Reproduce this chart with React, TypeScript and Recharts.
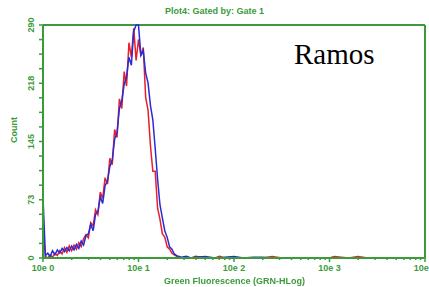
import React from 'react';
import { LineChart, Line, XAxis, YAxis, ReferenceLine } from 'recharts';

// channel position in decades (0 = 10e0, 4 = 10e4)
const channels = [
  0, 0.025, 0.05, 0.075, 0.1, 0.125, 0.15, 0.175, 0.2, 0.225, 0.25, 0.275, 0.3, 0.325, 0.35, 0.375,
  0.4, 0.425, 0.45, 0.475, 0.5, 0.525, 0.55, 0.575, 0.6, 0.625, 0.65, 0.675, 0.7, 0.725, 0.75, 0.775,
  0.8, 0.825, 0.85, 0.875, 0.9, 0.925, 0.95, 0.975, 1.0, 1.025, 1.05, 1.075, 1.1, 1.125, 1.15, 1.175,
  1.2, 1.225, 1.25, 1.275, 1.3, 1.325, 1.35, 1.375, 1.4, 1.425, 1.45, 1.5, 1.55, 1.6, 1.7, 1.8,
  1.85, 1.9, 2.0, 2.1, 2.2, 2.3, 2.4, 2.5, 2.6, 2.8, 3.0, 3.05, 3.2, 3.3, 3.4, 3.6, 3.8, 4.0,
];

const redCounts = [
  35, 2, 0, 4, 1, 6, 3, 9, 5, 13, 7, 15, 9, 16, 11, 19,
  14, 24, 29, 25, 44, 40, 60, 54, 82, 74, 100, 92, 124, 116, 160, 150,
  198, 186, 232, 214, 268, 250, 286, 246, 272, 252, 262, 200, 184, 140, 108, 108,
  62, 48, 30, 26, 14, 11, 6, 4, 2, 1, 0, 1, 0, 2, 0, 0,
  2, 0, 0, 0, 0, 0, 2, 0, 0, 0, 0, 2, 0, 2, 0, 0, 0, 0,
];

const blueCounts = [
  76, 3, 6, 2, 9, 4, 10, 6, 12, 8, 13, 9, 15, 10, 17, 12,
  21, 16, 28, 30, 42, 34, 54, 58, 76, 68, 90, 96, 114, 122, 148, 156,
  186, 196, 216, 226, 250, 240, 282, 290, 290, 252, 258, 230, 218, 190, 172, 136,
  98, 66, 50, 34, 26, 14, 11, 5, 3, 2, 1, 2, 0, 1, 2, 0,
  0, 1, 2, 0, 1, 1, 0, 0, 0, 0, 0, 0, 0, 0, 0, 0, 0, 0,
];

const yTicks = Array.from({ length: 17 }, (_, i) => (i * 290) / 16);
const yLabels = ['0', '73', '145', '218', '290'];
const xTicks = [0, 1, 2, 3].flatMap((k) => [1, 2, 3, 4, 5, 6, 7, 8, 9].map((m) => k + Math.log10(m))).concat([4]);
const xLabels = ['10e 0', '10e 1', '10e 2', '10e 3', '10e 4'];

const green = '#3b9b3b';
const font = '"Liberation Sans", Arial, sans-serif';

const data = channels.map((c, i) => ({ c, red: redCounts[i], blue: blueCounts[i] }));

const YTick = (props: any) => {
  const { y, payload } = props;
  const idx = Math.round((payload.value * 16) / 290);
  const major = idx % 4 === 0;
  return (
    <g>
      <line x1={39} x2={43} y1={y} y2={y} stroke={green} strokeWidth={1.5} />
      {major && (
        <text
          x={31}
          y={y}
          transform={`rotate(-90, 31, ${y})`}
          textAnchor="middle"
          dominantBaseline="central"
          fill={green}
          fontSize={9}
          fontWeight="bold"
          fontFamily={font}
        >
          {yLabels[idx / 4]}
        </text>
      )}
    </g>
  );
};

const XTick = (props: any) => {
  const { x, payload } = props;
  const v = payload.value;
  const major = Math.abs(v - Math.round(v)) < 1e-6;
  return (
    <g>
      <line x1={x} x2={x} y1={258} y2={major ? 262 : 260} stroke={green} strokeWidth={1.5} />
      {major && (
        <text x={x} y={271} textAnchor="middle" fill={green} fontSize={9} fontWeight="bold" fontFamily={font}>
          {xLabels[Math.round(v)]}
        </text>
      )}
    </g>
  );
};

export default function App() {
  return (
    <div style={{ position: 'fixed', left: 0, top: 0, width: 429, height: 287, background: '#fff' }}>
      <LineChart width={429} height={287} data={data} margin={{ top: 25, right: 4, bottom: 0, left: 0 }}>
        <XAxis
          dataKey="c"
          type="number"
          domain={[0, 4]}
          ticks={xTicks}
          interval={0}
          height={29}
          stroke={green}
          strokeWidth={2}
          tickLine={false}
          tick={<XTick />}
        />
        <YAxis
          type="number"
          domain={[0, 290]}
          ticks={yTicks}
          interval={0}
          width={43}
          stroke={green}
          strokeWidth={2}
          tickLine={false}
          tick={<YTick />}
        />
        <ReferenceLine y={290} stroke={green} strokeWidth={2} />
        <ReferenceLine x={4} stroke={green} strokeWidth={2} />
        <Line dataKey="red" stroke="#e8202a" strokeWidth={1.5} dot={false} isAnimationActive={false} />
        <Line dataKey="blue" stroke="#2b2bd6" strokeWidth={1.5} dot={false} isAnimationActive={false} />
      </LineChart>
      <div style={{ position: 'absolute', left: 0, width: 429, top: 6, textAlign: 'center', color: green, fontSize: 9, fontWeight: 'bold', fontFamily: font }}>
        Plot4: Gated by: Gate 1
      </div>
      <div style={{ position: 'absolute', left: 20, top: 276, width: 429, textAlign: 'center', color: green, fontSize: 9, fontWeight: 'bold', fontFamily: font }}>
        Green Fluorescence (GRN-HLog)
      </div>
      <div style={{ position: 'absolute', left: 14, top: 130, transform: 'translate(-50%, -50%) rotate(-90deg)', color: green, fontSize: 9, fontWeight: 'bold', fontFamily: font }}>
        Count
      </div>
      <div style={{ position: 'absolute', left: 294, top: 38, color: '#000', fontSize: 29, fontFamily: '"Liberation Serif", serif' }}>
        Ramos
      </div>
    </div>
  );
}
